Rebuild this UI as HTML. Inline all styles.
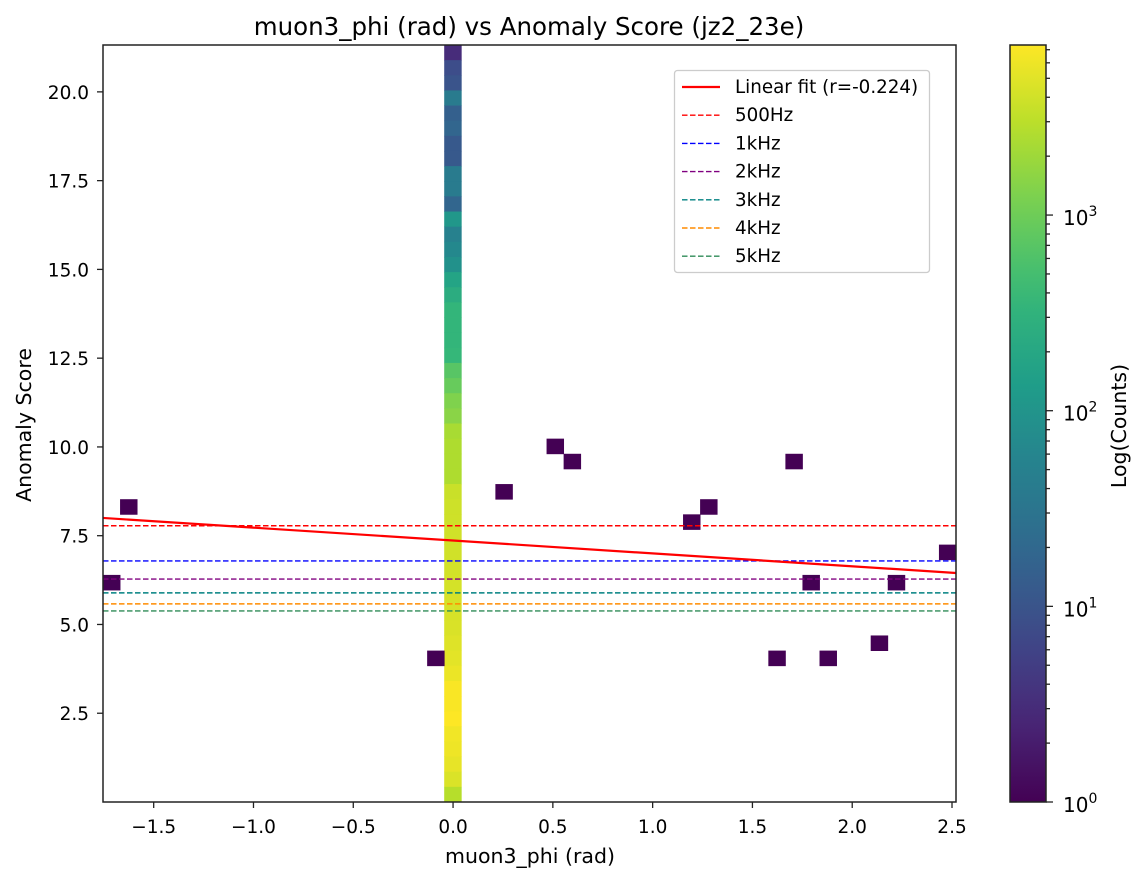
<!DOCTYPE html>
<html><head><meta charset="utf-8">
<style>
html,body{margin:0;padding:0;background:#fff;}
svg{display:block;font-family:"DejaVu Sans","Liberation Sans",sans-serif;}
</style></head>
<body>
<svg id="chart" width="1142" height="881" viewBox="0 0 1142 881" xmlns="http://www.w3.org/2000/svg">
<rect width="1142" height="881" fill="#fff"/>
<text x="529" y="35" font-size="24.5" text-anchor="middle">muon3_phi (rad) vs Anomaly Score (jz2_23e)</text>
<g id="cells"></g>
<g id="lines"></g>
<g id="axes"></g>
<text x="530" y="863" font-size="20.5" text-anchor="middle">muon3_phi (rad)</text>
<text transform="translate(31,425) rotate(-90)" font-size="20.5" text-anchor="middle">Anomaly Score</text>
<g id="legend"></g>
<defs><linearGradient id="vir" x1="0" y1="1" x2="0" y2="0"></linearGradient></defs>
<g id="cbar"></g>
<text transform="translate(1126,426) rotate(-90)" font-size="20.5" text-anchor="middle">Log(Counts)</text>
</svg>
<script>
// ---- data ----
const xMin = -1.754, xMax = 2.52, yMin = 0, yMax = 21.32, nBins = 50;
const mainColumnBin = 20;
// counts in main column, from top row (index 49) downward
const mainColumnCountsTopDown = [3,8,10,40,15,18,12,12,40,40,18,110,50,65,90,180,250,350,350,350,380,700,900,1300,1500,2300,
  2500,2500,2500,3600,3800,3900,4000,4000,4100,4200,4300,4400,4500,4800,5200,5800,7000,7000,7400,6300,6000,5500,4600,2800];
// isolated single-count bins: [xBin, yBin]
const sparseBins = [[0,14],[1,19],[19,9],[23,20],[26,23],[27,22],[34,18],[35,19],[39,9],[40,22],[41,14],[42,9],[45,10],[46,14],[49,16]];
const fitStart = [-1.754, 8.0], fitEnd = [2.52, 6.45];
const rateLabels = ["500Hz","1kHz","2kHz","3kHz","4kHz","5kHz"];
const rateValues = [7.78, 6.79, 6.28, 5.89, 5.58, 5.38];
const rateColors = ["#ff0000","#0000ff","#800080","#008080","#ff8c00","#2e8b57"];
const xTicks = [-1.5,-1.0,-0.5,0.0,0.5,1.0,1.5,2.0,2.5];
const yTicks = [2.5,5.0,7.5,10.0,12.5,15.0,17.5,20.0];
const cMin = 1, cMax = 7400;

// ---- geometry ----
const L=103,R=956,T=45,B=802;
const sx = v => L + (v - xMin)/(xMax - xMin)*(R-L);
const sy = v => B - (v - yMin)/(yMax - yMin)*(B-T);
const NS="http://www.w3.org/2000/svg";
function el(tag, attrs, parent){const e=document.createElementNS(NS,tag);for(const k in attrs)e.setAttribute(k,attrs[k]);parent.appendChild(e);return e;}
const vir=[[68,1,84],[72,40,120],[62,74,137],[49,104,142],[38,130,142],[31,158,137],[53,183,121],[110,206,88],[181,222,43],[253,231,37]];
function viridis(t){t=Math.max(0,Math.min(1,t));const p=t*(vir.length-1);const i=Math.min(vir.length-2,Math.floor(p));const f=p-i;
  const c=vir[i].map((a,j)=>Math.round(a+(vir[i+1][j]-a)*f));return `rgb(${c[0]},${c[1]},${c[2]})`;}
const cnorm = c => Math.log10(c/cMin)/Math.log10(cMax/cMin);
const bw=(xMax-xMin)/nBins, bh=(yMax-yMin)/nBins;

const cells=document.getElementById('cells');
function cell(xi,yi,c){
  const x0=sx(xMin+xi*bw), x1=sx(xMin+(xi+1)*bw), y1=sy(yMin+yi*bh), y0=sy(yMin+(yi+1)*bh);
  const r=el('rect',{x:x0,y:y0,width:x1-x0+0.4,height:y1-y0+0.4,fill:viridis(cnorm(c))},cells);
  
  
}
mainColumnCountsTopDown.forEach((c,k)=>cell(mainColumnBin,nBins-1-k,c));
sparseBins.forEach(b=>cell(b[0],b[1],1));

const lines=document.getElementById('lines');
rateValues.forEach((v,i)=>{
  const l=el('line',{x1:L,x2:R,y1:sy(v),y2:sy(v),stroke:rateColors[i],'stroke-width':1.4,'stroke-dasharray':'5.5,2.5'},lines);
  
  
});
const fit=el('line',{x1:sx(fitStart[0]),y1:sy(fitStart[1]),x2:sx(fitEnd[0]),y2:sy(fitEnd[1]),stroke:'#ff0000','stroke-width':2.2},lines);



const axes=document.getElementById('axes');
el('rect',{x:L,y:T,width:R-L,height:B-T,fill:'none',stroke:'#222','stroke-width':1.5},axes);
xTicks.forEach(v=>{const x=sx(v);
  el('line',{x1:x,x2:x,y1:B,y2:B+6,stroke:'#222','stroke-width':1.3},axes);
  const t=el('text',{x:x,y:B+31,'font-size':18.5,'text-anchor':'middle'},axes);t.textContent=(v<0?'\u2212':'')+Math.abs(v).toFixed(1);
  
  
});
yTicks.forEach(v=>{const y=sy(v);
  el('line',{x1:L-6,x2:L,y1:y,y2:y,stroke:'#222','stroke-width':1.3},axes);
  const t=el('text',{x:L-14,y:y+7,'font-size':18.5,'text-anchor':'end'},axes);t.textContent=v.toFixed(1);
  
  
});

// legend
const lg=document.getElementById('legend');
el('rect',{x:674.5,y:70.5,width:255,height:202,rx:3,fill:'#fff',stroke:'#ccc','stroke-width':1.3},lg);
const labels=["Linear fit (r=-0.224)"].concat(rateLabels), cols=["#ff0000"].concat(rateColors);
labels.forEach((s,i)=>{const y=87+i*28.2;
  el('line',{x1:682,x2:720,y1:y,y2:y,stroke:cols[i],'stroke-width':i?1.4:2.2,'stroke-dasharray':i?'5.5,2.5':'none'},lg);
  const t=el('text',{x:735,y:y+6,'font-size':18.3},lg);t.textContent=s;
  
  
});

// colorbar
const grad=document.getElementById('vir');
for(let i=0;i<=20;i++){el('stop',{offset:(i/20),'stop-color':viridis(i/20)},grad);}
const cb=document.getElementById('cbar');
const cbL=1010,cbR=1046;
el('rect',{x:cbL,y:T,width:cbR-cbL,height:B-T,fill:'url(#vir)',stroke:'#222','stroke-width':1.5},cb);
const cy=c=>B-cnorm(c)*(B-T);
for(let d=0;d<=3;d++){for(let m=1;m<=9;m++){const c=m*Math.pow(10,d);if(c>cMax)break;const y=cy(c);
  el('line',{x1:cbR,x2:cbR+(m===1?7:4),y1:y,y2:y,stroke:'#222','stroke-width':1.3},cb);
  if(m===1){const t=el('text',{x:cbR+17,y:y+10,'font-size':20},cb);t.textContent='10';
    const s=el('tspan',{dy:-9,'font-size':14},t);s.textContent=String(d);
    
    }
}}
</script>
</body></html>
